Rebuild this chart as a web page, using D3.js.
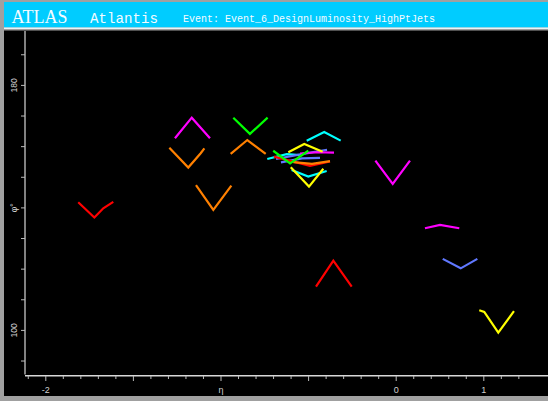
<!DOCTYPE html>
<html><head><meta charset="utf-8">
<script src="https://cdn.jsdelivr.net/npm/d3@7"></script>
<style>body{margin:0;background:#a0a0a0;} svg{display:block}</style>
</head><body>
<svg id="c" width="548" height="401"></svg>
<script>
// ---- data ----
const etaDomain = [-2, 0, 1];            // piecewise (fisheye-like) eta axis
const xTickValues = d3.range(-21, 1).map(i => i / 10).concat([0.2, 0.4, 0.6, 0.8, 1.0, 1.2, 1.4]);
const xMajorTicks = [-2, -1.5, -1, -0.5, 0, 1];
const xTickLabels = {"-2": "-2", "-1": "\u03B7", "0": "0", "1": "1"};
const yTickValues = d3.range(90, 191, 10);
const yTickLabels = {180: "180", 140: "\u03C6\u00B0", 100: "100"};

const trackColors = [
  "#ff0000", "#ff00ff", "#00ff00", "#ff8000", "#ff8000", "#ff8000",
  "#00ffff", "#00ffff", "#00ffff", "#6078ff", "#6078ff", "#ff0000",
  "#ff8000", "#ff00ff", "#00ff00", "#ffff00", "#ffff00", "#ff00ff",
  "#ff00ff", "#6078ff", "#ffff00", "#ff0000"
];
const trackEta = [
  [-1.812, -1.720, -1.669, -1.612],
  [-1.260, -1.164, -1.060],
  [-0.927, -0.832, -0.731],
  [-1.292, -1.184, -1.113, -1.092],
  [-0.942, -0.847, -0.742],
  [-1.140, -1.041, -0.938],
  [-0.508, -0.408, -0.314],
  [-0.733, -0.622, -0.546],
  [-0.594, -0.499, -0.394],
  [-0.683, -0.529, -0.392],
  [-0.655, -0.535, -0.432],
  [-0.695, -0.489, -0.375],
  [-0.584, -0.478, -0.375],
  [-0.546, -0.450, -0.352],
  [-0.699, -0.603, -0.499],
  [-0.613, -0.522, -0.417],
  [-0.599, -0.495, -0.413],
  [-0.116, -0.017, 0.163],
  [0.334, 0.506, 0.726],
  [0.537, 0.742, 0.932],
  [0.954, 1.011, 1.171, 1.350],
  [-0.455, -0.356, -0.251]
];
const trackPhi = [
  [141.7, 136.7, 139.7, 141.8],
  [162.6, 169.3, 162.6],
  [169.3, 164.0, 169.3],
  [159.5, 153.0, 157.7, 159.3],
  [157.5, 162.0, 157.5],
  [147.3, 139.2, 147.1],
  [161.8, 164.6, 161.8],
  [155.8, 157.4, 157.1],
  [152.2, 150.1, 151.9],
  [155.8, 157.5, 158.8],
  [154.7, 156.0, 156.2],
  [156.6, 153.6, 155.0],
  [154.8, 154.2, 155.1],
  [157.6, 158.0, 157.9],
  [158.5, 154.4, 158.5],
  [158.0, 160.7, 158.2],
  [153.1, 146.8, 152.6],
  [155.3, 147.7, 155.3],
  [133.2, 134.3, 133.2],
  [123.2, 120.1, 123.2],
  [106.4, 105.9, 99.1, 106.1],
  [114.1, 122.6, 114.1]
];

// ---- layout ----
const svg = d3.select("#c");
svg.append("rect").attr("width", 548).attr("height", 401).attr("fill", "#a0a0a0");
// title bar
svg.append("rect").attr("x", 4).attr("y", 2).attr("width", 544).attr("height", 25.5).attr("fill", "#00ccff");
svg.append("rect").attr("x", 4).attr("y", 27.5).attr("width", 544).attr("height", 1.5).attr("fill", "#e8f4f8");
svg.append("text").attr("x", 11.5).attr("y", 23).attr("fill", "#f4fbff")
  .style("font-family", "'Liberation Serif','Times New Roman',serif").style("font-size", "18px").text("ATLAS");
svg.append("text").attr("x", 90).attr("y", 22.5).attr("fill", "#f4fbff")
  .style("font-family", "'Courier New','Liberation Mono',monospace").style("font-size", "14.2px").text("Atlantis");
svg.append("text").attr("x", 183).attr("y", 22).attr("fill", "#f4fbff")
  .style("font-family", "'Courier New','Liberation Mono',monospace").style("font-size", "10px")
  .text("Event: Event_6_DesignLuminosity_HighPtJets");

// plot area
svg.append("rect").attr("x", 4).attr("y", 30.5).attr("width", 544).attr("height", 365.5).attr("fill", "#000");

const x = d3.scaleLinear().domain(etaDomain).range([45.3, 395.7, 483.3]);
const y = d3.scaleLinear().domain([85.6, 197.6]).range([374, 31]);

// clip
svg.append("clipPath").attr("id", "clip").append("rect")
  .attr("x", 26).attr("y", 31).attr("width", 522).attr("height", 344);

const g = svg.append("g").attr("clip-path", "url(#clip)");
const line = d3.line().x(d => x(d[0])).y(d => y(d[1]));
trackEta.forEach((etas, i) => {
  const pts = etas.map((e, j) => [e, trackPhi[i][j]]);
  g.append("path").attr("d", line(pts)).attr("fill", "none")
    .attr("stroke", trackColors[i]).attr("stroke-width", 2.2)
    .attr("stroke-linejoin", "miter");
});

// axes
const axisColor = "#d8d8d8";
svg.append("line").attr("x1", 25).attr("x2", 25).attr("y1", 31).attr("y2", 374.5)
  .attr("stroke", axisColor).attr("stroke-width", 1.2);
svg.append("line").attr("x1", 25).attr("x2", 548).attr("y1", 375.7).attr("y2", 375.7)
  .attr("stroke", axisColor).attr("stroke-width", 1.4);

const yAxis = d3.axisLeft(y).tickValues(yTickValues).tickSize(4).tickSizeOuter(0)
  .tickFormat(d => yTickLabels[d] || "");
const gy = svg.append("g").attr("transform", "translate(25,0)").call(yAxis);
gy.select(".domain").remove();
gy.selectAll(".tick line").attr("stroke", "#bbbbbb");
gy.selectAll(".tick text")
  .attr("transform", "rotate(-90)").attr("x", 0).attr("y", -8).attr("dy", 0)
  .attr("text-anchor", "middle").attr("fill", "#d0d0d0")
  .style("font-family", "'Liberation Sans',Arial,sans-serif").style("font-size", "8.5px");

const xAxis = d3.axisBottom(x).tickValues(xTickValues).tickSizeOuter(0)
  .tickSize(3).tickFormat(d => xTickLabels[String(+d.toFixed(1))] || "");
const gx = svg.append("g").attr("transform", "translate(0,376)").call(xAxis);
gx.select(".domain").remove();
gx.selectAll(".tick line").attr("stroke", "#bbbbbb")
  .attr("y2", d => xMajorTicks.some(m => Math.abs(m - d) < 1e-6) ? 5 : 3);
gx.selectAll(".tick text").attr("y", 17).attr("dy", 0).attr("fill", "#d0d0d0")
  .style("font-family", "'Liberation Sans',Arial,sans-serif").style("font-size", "9px");
</script>
</body></html>
